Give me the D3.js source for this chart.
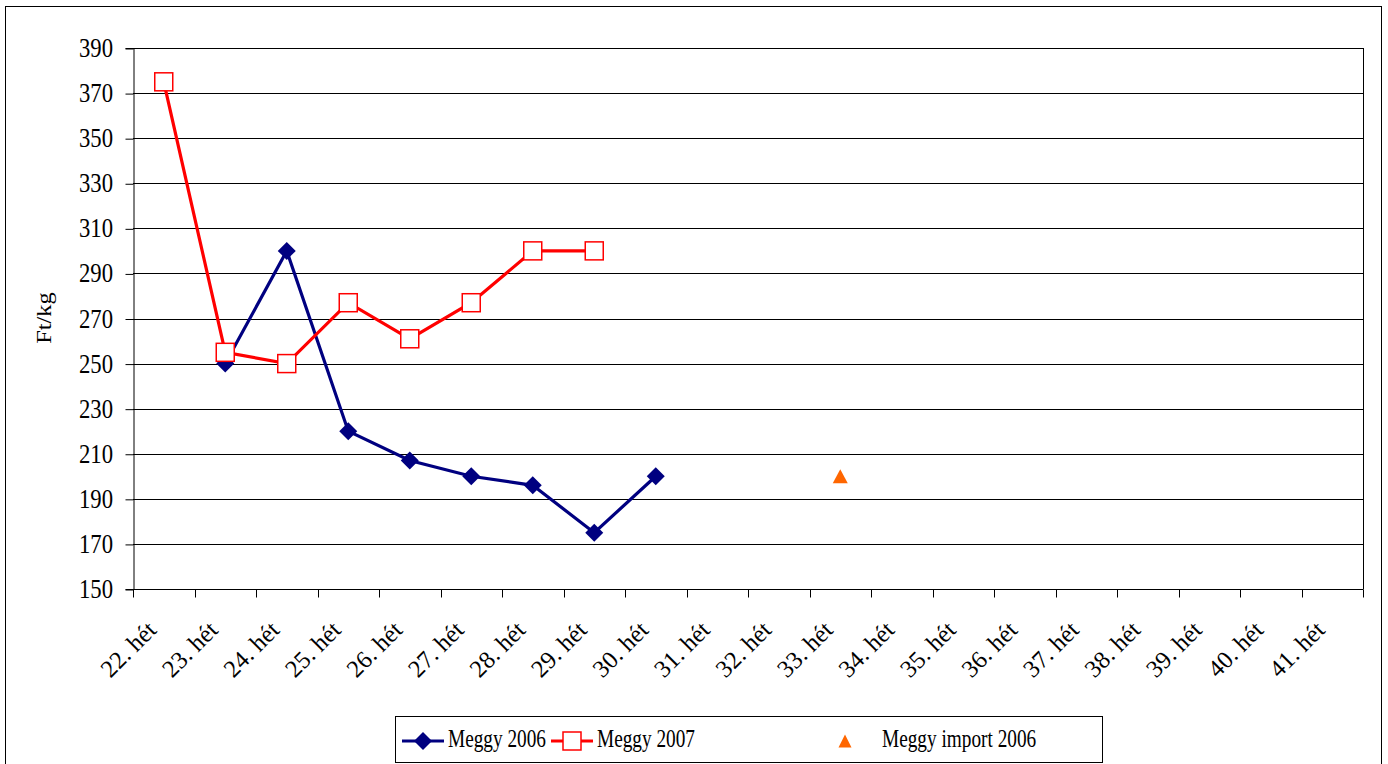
<!DOCTYPE html>
<html><head><meta charset="utf-8">
<script src="https://cdn.jsdelivr.net/npm/d3@7"></script>
<style>
body{margin:0;background:#fff;}
text{font-family:"Liberation Serif","Times New Roman",serif;fill:#000;}
</style></head>
<body>
<svg id="c" width="1388" height="764"></svg>
<script>
const categories = ["22. hét","23. hét","24. hét","25. hét","26. hét","27. hét","28. hét","29. hét","30. hét","31. hét","32. hét","33. hét","34. hét","35. hét","36. hét","37. hét","38. hét","39. hét","40. hét","41. hét"];
const meggy2006 = [null,250,300,220,207,200,196,175,200,null,null,null,null,null,null,null,null,null,null,null];
const meggy2007 = [375,255,250,277,261,277,300,300,null,null,null,null,null,null,null,null,null,null,null,null];
const import2006 = [null,null,null,null,null,null,null,null,null,null,null,200,null,null,null,null,null,null,null,null];
const yTicks = [150,170,190,210,230,250,270,290,310,330,350,370,390];

const svg = d3.select("#c");
const L=133,R=1363,T=48,B=589;
svg.append("rect").attr("x",5.5).attr("y",6.5).attr("width",1376).attr("height",770).attr("fill","none").attr("stroke","#000").attr("stroke-width",1);

const x = d3.scaleBand().domain(categories).range([L,R]).padding(0);
const y = d3.scaleLinear().domain([150,390]).range([B,T]);
const cx = c => x(c)+x.bandwidth()/2;

// gridlines
svg.append("g").selectAll("line").data(yTicks).join("line")
  .attr("x1",L).attr("x2",R).attr("y1",d=>Math.round(y(d))+0.5).attr("y2",d=>Math.round(y(d))+0.5)
  .attr("stroke","#000").attr("stroke-width",1);
svg.append("line").attr("x1",R+0.5).attr("x2",R+0.5).attr("y1",T).attr("y2",B).attr("stroke","#000");

// y axis
const ya = svg.append("g").attr("transform",`translate(${L+0.5},0)`)
  .call(d3.axisLeft(y).tickValues(yTicks).tickSize(8).tickFormat(""));
ya.select(".domain").attr("stroke","#000");
ya.selectAll(".tick line").attr("y1",0.5).attr("y2",0.5);
svg.append("g").selectAll("text").data(yTicks).join("text")
  .attr("text-anchor","end")
  .attr("transform",d=>`translate(113,${Math.round(y(d))+9}) scale(1,1.17)`)
  .style("font-size","22.7px")
  .text(d=>d3.format("d")(d));

// x axis
const xa = svg.append("g").attr("transform",`translate(0,${B+0.5})`);
xa.append("line").attr("x1",L).attr("x2",R+0.5).attr("stroke","#000");
const bounds = categories.map(c=>x(c)).concat([R]);
xa.selectAll("line.t").data(bounds).join("line").attr("class","t")
  .attr("x1",d=>Math.round(d)+0.5).attr("x2",d=>Math.round(d)+0.5).attr("y1",0).attr("y2",8).attr("stroke","#000");
xa.selectAll("text").data(categories).join("text")
  .attr("text-anchor","end")
  .attr("transform",c=>`translate(${cx(c)-6},${42}) rotate(-45)`)
  .style("font-size","24.5px")
  .text(c=>c);

// axis title
svg.append("text").attr("transform","translate(51,318) rotate(-90) scale(1.22,1)").attr("text-anchor","middle").style("font-size","20px").text("Ft/kg");

const line = d3.line().defined(d=>d.v!=null).x(d=>cx(d.c)).y(d=>y(d.v));
const s06 = categories.map((c,i)=>({c,v:meggy2006[i]}));
const s07 = categories.map((c,i)=>({c,v:meggy2007[i]}));
const si = categories.map((c,i)=>({c,v:import2006[i]}));

svg.append("path").datum(s06).attr("d",line).attr("fill","none").attr("stroke","#000080").attr("stroke-width",3.2);
svg.append("path").datum(s07).attr("d",line).attr("fill","none").attr("stroke","#ff0000").attr("stroke-width",3.2);

const diamond = (px,py,r)=>`M${px},${py-r}L${px+r},${py}L${px},${py+r}L${px-r},${py}Z`;
svg.append("g").selectAll("path").data(s06.filter(d=>d.v!=null)).join("path")
  .attr("d",d=>diamond(cx(d.c),y(d.v),9)).attr("fill","#000080");
svg.append("g").selectAll("rect").data(s07.filter(d=>d.v!=null)).join("rect")
  .attr("x",d=>cx(d.c)-9).attr("y",d=>y(d.v)-9).attr("width",18).attr("height",18)
  .attr("fill","#fff").attr("stroke","#ff0000").attr("stroke-width",1.5);
const tri = (px,py,w,h)=>`M${px},${py-h/2}L${px+w/2},${py+h/2}L${px-w/2},${py+h/2}Z`;
svg.append("g").selectAll("path").data(si.filter(d=>d.v!=null)).join("path")
  .attr("d",d=>tri(cx(d.c),y(d.v),15,14)).attr("fill","#ff6600");

// legend
const lg = svg.append("g");
lg.append("rect").attr("x",395.5).attr("y",716.5).attr("width",707).attr("height",46).attr("fill","#fff").attr("stroke","#000");
const ly=741;
const ltext = (tx,t)=>lg.append("text").attr("transform",`translate(${tx},747) scale(1,1.32)`).style("font-size","19.3px").text(t);
lg.append("line").attr("x1",402).attr("x2",444).attr("y1",ly).attr("y2",ly).attr("stroke","#000080").attr("stroke-width",3.2);
lg.append("path").attr("d",diamond(423,ly,9)).attr("fill","#000080");
ltext(448,"Meggy 2006");
lg.append("line").attr("x1",551).attr("x2",593).attr("y1",ly).attr("y2",ly).attr("stroke","#ff0000").attr("stroke-width",3.2);
lg.append("rect").attr("x",572-9).attr("y",ly-9).attr("width",18).attr("height",18).attr("fill","#fff").attr("stroke","#ff0000").attr("stroke-width",1.5);
ltext(597,"Meggy 2007");
lg.append("path").attr("d",tri(845,ly,13,13)).attr("fill","#ff6600");
ltext(882,"Meggy import 2006");
</script>
</body></html>
